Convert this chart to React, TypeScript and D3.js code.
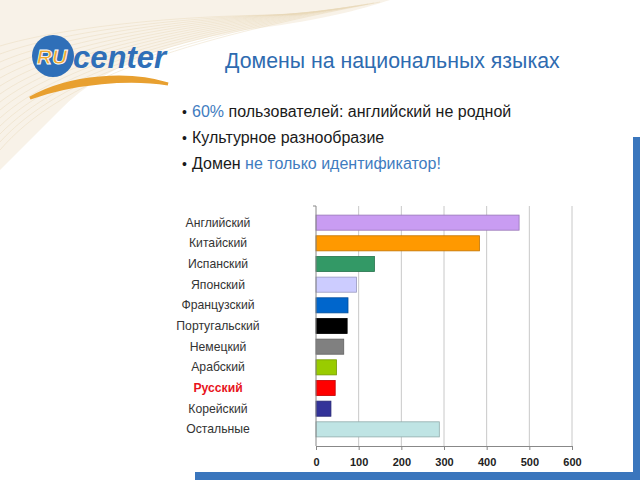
import React, { useEffect, useRef } from 'react';
import * as d3 from 'd3';

const languages = ['Английский', 'Китайский', 'Испанский', 'Японский', 'Французский', 'Португальский', 'Немецкий', 'Арабский', 'Русский', 'Корейский', 'Остальные'];
const users = [476, 383, 137, 95, 75, 73, 65, 48, 45, 35, 289];
const barColors = ['#c99cf2', '#ff9900', '#339966', '#ccccff', '#0066cc', '#000000', '#808080', '#99cc00', '#ff0000', '#333399', '#bfe4e4'];
const xTicks = [0, 100, 200, 300, 400, 500, 600];

const App = () => {
    const svgRef = useRef<SVGSVGElement>(null);

    useEffect(() => {
        const svg = d3.select(svgRef.current);
        svg.selectAll('*').remove();

        // фон: бежевая волна
        const bg = svg.append('g');
        bg.append('path')
            .attr('d', 'M0,0 L390,0 C360,10 320,20 260,28 C180,40 110,60 60,110 C40,130 20,150 0,170 Z')
            .attr('fill', '#f3ead9')
            .attr('opacity', 0.6);
        for (let i = 0; i < 14; i++) {
            bg.append('path')
                .attr('d', `M0,${150 - i * 8} C60,${80 - i * 4} 180,${40 - i * 2} ${380 - i * 6},${2 + i}`)
                .attr('fill', 'none')
                .attr('stroke', '#e8d6b4')
                .attr('stroke-width', 0.7)
                .attr('opacity', 0.6);
        }

        // синие полосы рамки
        svg.append('rect').attr('x', 633).attr('y', 137).attr('width', 7).attr('height', 343).attr('fill', '#3a76bd');
        svg.append('rect').attr('x', 195).attr('y', 472).attr('width', 445).attr('height', 8).attr('fill', '#3a76bd');

        // логотип
        const logo = svg.append('g');
        logo.append('path')
            .attr('d', 'M30,98 C70,75 130,72 168,84 C130,78 75,82 30,98 Z')
            .attr('fill', '#e8a030')
            .attr('stroke', '#e8a030')
            .attr('stroke-width', 3);
        logo.append('circle').attr('cx', 53).attr('cy', 56).attr('r', 21).attr('fill', '#2f6fb8');
        logo.append('text')
            .attr('x', 52).attr('y', 64)
            .attr('text-anchor', 'middle')
            .attr('font-family', 'Liberation Sans, Arial, sans-serif')
            .attr('font-weight', 'bold').attr('font-style', 'italic')
            .attr('font-size', 21)
            .attr('fill', '#f0a830')
            .attr('stroke', '#ffffff').attr('stroke-width', 0.8)
            .text('RU');
        logo.append('text')
            .attr('x', 73).attr('y', 68)
            .attr('font-family', 'Liberation Sans, Arial, sans-serif')
            .attr('font-weight', 'bold').attr('font-style', 'italic')
            .attr('font-size', 31)
            .attr('fill', '#2f6fb8')
            .text('center');

        // заголовок
        svg.append('text')
            .attr('x', 225).attr('y', 68)
            .attr('font-family', 'Liberation Sans, Arial, sans-serif')
            .attr('font-size', 21.3)
            .attr('fill', '#2e6bb0')
            .text('Домены на национальных языках');

        // пункты
        const bullets = [
            [['60%', '#3f7cc0'], [' пользователей: английский не родной', '#1a1a1a']],
            [['Культурное разнообразие', '#1a1a1a']],
            [['Домен ', '#1a1a1a'], ['не только идентификатор!', '#3f7cc0']],
        ];
        bullets.forEach((parts, i) => {
            const y = 117 + i * 26;
            svg.append('text')
                .attr('x', 182).attr('y', y)
                .attr('font-family', 'Liberation Sans, Arial, sans-serif')
                .attr('font-size', 14).attr('fill', '#1a1a1a').text('•');
            const t = svg.append('text')
                .attr('x', 192).attr('y', y)
                .attr('font-family', 'Liberation Sans, Arial, sans-serif')
                .attr('font-size', 16);
            parts.forEach(p => t.append('tspan').attr('fill', p[1]).text(p[0]));
        });

        // график
        const margin = { top: 206, left: 316 };
        const width = 256;
        const height = 240;
        const g = svg.append('g').attr('transform', `translate(${margin.left},${margin.top})`);

        const x = d3.scaleLinear().domain([0, 600]).range([0, width]);
        const y = d3.scaleBand().domain(languages).range([0, height]).paddingInner(0.27).paddingOuter(0.44);

        // сетка
        g.selectAll('.grid')
            .data(xTicks.slice(1))
            .enter().append('line')
            .attr('x1', d => x(d)).attr('x2', d => x(d))
            .attr('y1', 0).attr('y2', height)
            .attr('stroke', '#c8c8c8').attr('stroke-width', 1);

        // бары
        g.selectAll('.bar')
            .data(users)
            .enter().append('rect')
            .attr('x', 0)
            .attr('y', (d, i) => y(languages[i]) as number)
            .attr('width', d => x(d))
            .attr('height', y.bandwidth())
            .attr('fill', (d, i) => barColors[i])
            .attr('stroke', (d, i) => d3.color(barColors[i])!.darker(0.8).toString())
            .attr('stroke-width', 0.8);

        // оси
        const xAxis = d3.axisBottom(x).tickValues(xTicks).tickSize(4).tickFormat(d3.format('d'));
        const ax = g.append('g').attr('transform', `translate(0,${height})`).call(xAxis);
        ax.select('.domain').attr('stroke', '#888');
        ax.selectAll('.tick line').attr('stroke', '#888');
        ax.selectAll('.tick text')
            .attr('dy', 12.5)
            .attr('font-family', 'Liberation Sans, Arial, sans-serif')
            .attr('font-size', 11).attr('font-weight', 'bold').attr('fill', '#222');

        g.append('line').attr('x1', 0).attr('x2', 0).attr('y1', 0).attr('y2', height).attr('stroke', '#888');
        g.append('line').attr('x1', -3).attr('x2', 0).attr('y1', 0).attr('y2', 0).attr('stroke', '#888');

        // подписи категорий
        g.selectAll('.lbl')
            .data(languages)
            .enter().append('text')
            .attr('x', 218 - margin.left)
            .attr('y', d => (y(d) as number) + y.bandwidth() / 2 + 4)
            .attr('text-anchor', 'middle')
            .attr('font-family', 'Liberation Sans, Arial, sans-serif')
            .attr('font-size', 12.2)
            .attr('font-weight', d => d === 'Русский' ? 'bold' : 'normal')
            .attr('fill', d => d === 'Русский' ? '#e8141c' : '#333')
            .text(d => d);
    }, []);

    return <svg ref={svgRef} width={640} height={480} style={{ position: 'absolute', left: 0, top: 0, background: '#fff' }}></svg>;
};

export default App;
